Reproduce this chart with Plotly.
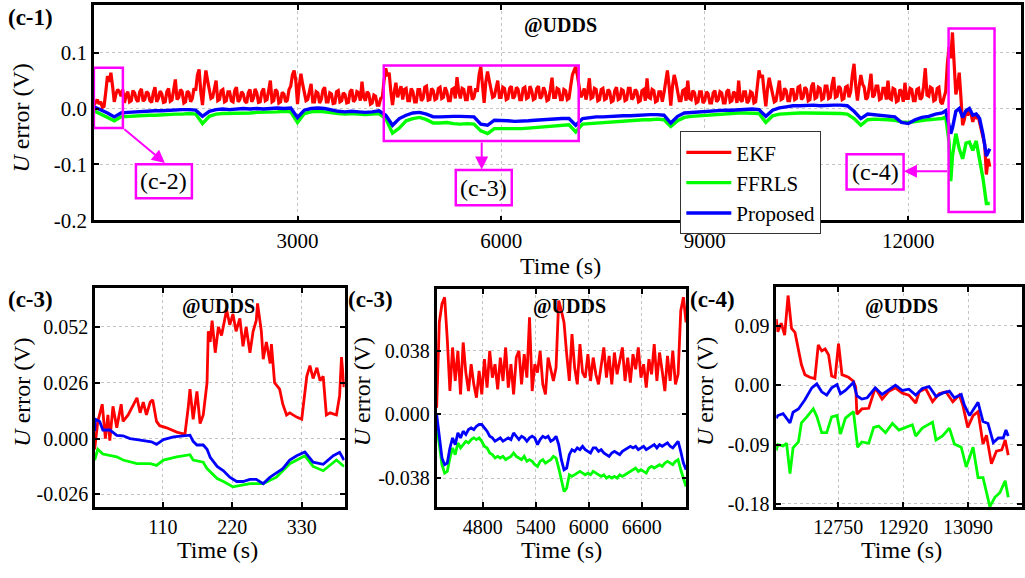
import plotly.graph_objects as go

# ---------------- DATA ----------------
# (c-1) full UDDS run, EKF sampled every 25 s
T_TOP_EKF = list(range(0, 13201, 25))
EKF_TOP = [
    # 0-975
    0.006, 0.012, 0.016, 0.008, 0.012, 0.002, 0.004, 0.030, 0.058, 0.048, 0.064, 0.040, 0.012, 0.026, 0.034, 0.030, 0.022, 0.034, 0.010, 0.024,
    0.030, 0.012, 0.014, 0.032, 0.028, 0.016, 0.012, 0.030, 0.035, 0.013, 0.016, 0.030, 0.027, 0.014, 0.011, 0.028, 0.038, 0.012, 0.018, 0.031,
    # 1000-1975
    0.026, 0.011, 0.012, 0.030, 0.036, 0.013, 0.015, 0.033, 0.052, 0.016, 0.020, 0.034, 0.030, 0.010, 0.012, 0.031, 0.028, 0.012, 0.018, 0.036,
    0.032, 0.060, 0.070, 0.030, 0.006, 0.040, 0.068, 0.050, 0.036, 0.018, 0.020, 0.034, 0.050, 0.014, 0.016, 0.032, 0.034, 0.012, 0.014, 0.030,
    # 2000-2975
    0.030, 0.014, 0.012, 0.032, 0.038, 0.012, 0.016, 0.030, 0.026, 0.013, 0.010, 0.028, 0.034, 0.012, 0.018, 0.035, 0.028, 0.011, 0.012, 0.030,
    0.036, 0.014, 0.016, 0.032, 0.050, 0.012, 0.014, 0.034, 0.030, 0.010, 0.012, 0.029, 0.026, 0.012, 0.015, 0.034, 0.040, 0.060, 0.068, 0.050,
    # 3000-3975
    0.008, 0.040, 0.062, 0.044, 0.030, 0.014, 0.016, 0.034, 0.044, 0.012, 0.012, 0.030, 0.028, 0.010, 0.016, 0.033, 0.038, 0.012, 0.012, 0.028,
    0.026, 0.009, 0.010, 0.030, 0.032, 0.012, 0.014, 0.028, 0.025, 0.010, 0.011, 0.030, 0.034, 0.012, 0.016, 0.030, 0.028, 0.014, 0.048, 0.020,
    # 4000-4975
    0.014, 0.030, 0.026, 0.008, 0.010, 0.024, 0.022, 0.006, 0.006, 0.018, 0.020, 0.050, 0.072, 0.058, 0.064, 0.030, 0.006, 0.030, 0.046, 0.020,
    0.030, 0.040, 0.016, 0.034, 0.036, 0.014, 0.014, 0.036, 0.030, 0.012, 0.012, 0.034, 0.034, 0.014, 0.018, 0.038, 0.040, 0.015, 0.016, 0.036,
    # 5000-5975
    0.032, 0.016, 0.018, 0.036, 0.038, 0.018, 0.020, 0.038, 0.030, 0.014, 0.014, 0.034, 0.036, 0.018, 0.056, 0.030, 0.018, 0.036, 0.034, 0.016,
    0.016, 0.038, 0.038, 0.016, 0.020, 0.036, 0.030, 0.060, 0.075, 0.040, 0.010, 0.048, 0.066, 0.050, 0.034, 0.020, 0.022, 0.038, 0.050, 0.020,
    # 6000-6975
    0.020, 0.038, 0.036, 0.016, 0.018, 0.036, 0.040, 0.018, 0.022, 0.038, 0.034, 0.016, 0.016, 0.036, 0.038, 0.018, 0.020, 0.040, 0.032, 0.016,
    0.018, 0.036, 0.040, 0.018, 0.022, 0.038, 0.030, 0.014, 0.016, 0.034, 0.055, 0.020, 0.020, 0.036, 0.034, 0.016, 0.016, 0.034, 0.032, 0.016,
    # 7000-7975
    0.018, 0.040, 0.060, 0.068, 0.075, 0.058, 0.040, 0.020, 0.026, 0.036, 0.016, 0.030, 0.054, 0.018, 0.020, 0.036, 0.034, 0.014, 0.016, 0.034,
    0.036, 0.016, 0.018, 0.034, 0.030, 0.012, 0.014, 0.032, 0.038, 0.016, 0.018, 0.034, 0.032, 0.014, 0.016, 0.036, 0.036, 0.016, 0.020, 0.034,
    # 8000-8975
    0.030, 0.012, 0.014, 0.032, 0.034, 0.014, 0.054, 0.020, 0.018, 0.034, 0.032, 0.012, 0.014, 0.030, 0.030, 0.012, 0.028, 0.050, 0.068, 0.040,
    0.005, 0.040, 0.060, 0.048, 0.030, 0.014, 0.014, 0.032, 0.034, 0.014, 0.050, 0.018, 0.016, 0.032, 0.028, 0.010, 0.012, 0.030, 0.030, 0.010,
    # 9000-9975
    0.014, 0.030, 0.026, 0.010, 0.010, 0.028, 0.032, 0.012, 0.016, 0.030, 0.028, 0.010, 0.010, 0.030, 0.034, 0.012, 0.014, 0.030, 0.026, 0.010,
    0.050, 0.016, 0.012, 0.030, 0.030, 0.010, 0.014, 0.030, 0.028, 0.010, 0.012, 0.040, 0.068, 0.055, 0.060, 0.030, 0.004, 0.035, 0.055, 0.040,
    # 10000-10975
    0.028, 0.012, 0.014, 0.032, 0.050, 0.016, 0.018, 0.036, 0.032, 0.014, 0.014, 0.034, 0.034, 0.016, 0.018, 0.038, 0.040, 0.016, 0.020, 0.038,
    0.034, 0.014, 0.016, 0.040, 0.046, 0.018, 0.020, 0.038, 0.036, 0.016, 0.018, 0.040, 0.040, 0.018, 0.020, 0.042, 0.056, 0.020, 0.022, 0.040,
    # 11000-11975
    0.036, 0.016, 0.018, 0.038, 0.040, 0.020, 0.030, 0.060, 0.080, 0.040, 0.014, 0.040, 0.060, 0.044, 0.038, 0.016, 0.020, 0.040, 0.062, 0.020,
    0.024, 0.040, 0.040, 0.016, 0.018, 0.036, 0.036, 0.016, 0.050, 0.018, 0.016, 0.036, 0.034, 0.012, 0.014, 0.034, 0.030, 0.012, 0.046, 0.018,
    # 12000-12975
    0.018, 0.036, 0.034, 0.014, 0.014, 0.034, 0.036, 0.016, 0.020, 0.040, 0.072, 0.024, 0.022, 0.038, 0.036, 0.014, 0.016, 0.036, 0.038, 0.012,
    0.008, 0.020, 0.030, 0.080, 0.110, 0.090, 0.136, 0.080, 0.025, 0.040, 0.064, 0.020, -0.030, -0.020, -0.004, -0.012, -0.006, -0.010, -0.024, -0.012,
    # 13000-13200
    -0.016, -0.012, -0.026, -0.040, -0.050, -0.064, -0.118, -0.090, -0.104,
]
# FFRLS / Proposed sampled every 100 s, denser near the end
T_TOP_BG = list(range(0, 12500, 100)) + [12500, 12550, 12600, 12625, 12650, 12700, 12750, 12800,
                                         12850, 12900, 12950, 13000, 13050, 13100, 13150, 13200]
PROPOSED_TOP = [
    0.003, -0.002, -0.008, -0.015, -0.008, -0.007, -0.006, -0.005, -0.005, -0.004, -0.004, -0.003, -0.003, -0.002, -0.002,
    -0.003, -0.014, -0.005, -0.002, -0.001, -0.002, -0.001, 0.000, -0.001, 0.000, -0.001, 0.000, 0.001, 0.000, 0.001,
    -0.016, -0.003, 0.000, 0.001, 0.000, -0.003, -0.005, -0.006, -0.005, -0.006, -0.007, -0.006, -0.004,
    -0.012, -0.030, -0.018, -0.012, -0.008, -0.007, -0.010, -0.015, -0.015, -0.014, -0.014, -0.014, -0.014, -0.015,
    -0.028, -0.030, -0.021, -0.021, -0.022, -0.023, -0.023, -0.022, -0.021, -0.020, -0.020, -0.019, -0.018, -0.018, -0.030,
    -0.018, -0.016, -0.015, -0.015, -0.014, -0.014, -0.013, -0.013, -0.012, -0.012, -0.011, -0.011, -0.012, -0.026, -0.014,
    -0.008, -0.007, -0.007, -0.006, -0.005, -0.004, -0.003, -0.003, -0.002, -0.002, -0.001, -0.002, -0.014, -0.003, 0.001,
    0.003, 0.005, 0.005, 0.006, 0.006, 0.005, 0.006, 0.006, 0.006, 0.005, -0.005, -0.018, -0.010, -0.011, -0.012,
    -0.013, -0.015, -0.025, -0.027, -0.020, -0.016, -0.014, -0.010,
    -0.008, -0.004, -0.030, -0.045, -0.035, -0.005, 0.000, -0.016, -0.004, 0.000, -0.012, -0.010, -0.018, -0.046, -0.085, -0.072,
]
FFRLS_TOP = [
    -0.004, -0.010, -0.017, -0.022, -0.015, -0.014, -0.013, -0.013, -0.012, -0.012, -0.011, -0.011, -0.010, -0.010, -0.009,
    -0.010, -0.027, -0.014, -0.010, -0.009, -0.009, -0.008, -0.008, -0.008, -0.007, -0.007, -0.006, -0.006, -0.005, -0.006,
    -0.025, -0.009, -0.006, -0.005, -0.006, -0.008, -0.009, -0.010, -0.009, -0.010, -0.011, -0.010, -0.009,
    -0.018, -0.044, -0.035, -0.022, -0.018, -0.016, -0.020, -0.026, -0.026, -0.025, -0.027, -0.028, -0.027, -0.028,
    -0.040, -0.045, -0.036, -0.036, -0.037, -0.037, -0.036, -0.035, -0.034, -0.033, -0.031, -0.031, -0.029, -0.029, -0.042,
    -0.028, -0.027, -0.026, -0.025, -0.024, -0.023, -0.022, -0.022, -0.021, -0.020, -0.020, -0.019, -0.020, -0.032, -0.022,
    -0.016, -0.014, -0.013, -0.012, -0.011, -0.010, -0.010, -0.009, -0.008, -0.008, -0.008, -0.009, -0.025, -0.013, -0.010,
    -0.009, -0.009, -0.008, -0.008, -0.008, -0.009, -0.008, -0.008, -0.009, -0.010, -0.018, -0.030, -0.020, -0.019, -0.019,
    -0.020, -0.021, -0.024, -0.025, -0.023, -0.021, -0.020, -0.019,
    -0.018, -0.015, -0.060, -0.130, -0.085, -0.045, -0.072, -0.090, -0.062, -0.060, -0.075, -0.058, -0.088, -0.125, -0.170, -0.170,
]

# (c-2) zoom: 0-400 s
T_C2_EKF = [2, 7, 14, 19, 23, 26, 31, 37, 44, 47, 55, 60, 69, 74, 79, 84, 90, 94, 100, 105,
            116, 132, 145, 150, 153, 158, 164, 169, 174, 180, 182, 185, 188, 193, 198, 203, 208, 211, 216, 221,
            226, 232, 237, 242, 248, 253, 258, 260, 266, 269, 274, 280, 282, 287, 295, 300, 306, 311, 322, 330,
            338, 343, 348, 354, 359, 364, 369, 375, 385, 390, 393, 397]
EKF_C2 = [-0.005, 0.008, 0.016, 0.000, 0.011, -0.001, 0.015, 0.005, 0.016, 0.008, 0.011, 0.014, 0.019, 0.012, 0.017, 0.011, 0.017, 0.018, 0.008, 0.006,
          0.005, 0.003, 0.002, 0.014, 0.023, 0.009, 0.022, 0.007, 0.011, 0.026, 0.050, 0.045, 0.055, 0.040, 0.052, 0.048, 0.056, 0.060, 0.053, 0.058,
          0.050, 0.056, 0.043, 0.052, 0.040, 0.050, 0.055, 0.063, 0.050, 0.037, 0.045, 0.035, 0.044, 0.026, 0.023, 0.016, 0.011, 0.012, 0.010, 0.009,
          0.029, 0.034, 0.028, 0.033, 0.027, 0.029, 0.011, 0.012, 0.011, 0.020, 0.038, 0.024]
T_C2_PROP = [2, 3, 10, 15, 26, 37, 47, 58, 69, 79, 92, 100, 111, 127, 143, 153, 158, 164, 174, 180,
             185, 196, 206, 216, 227, 237, 248, 258, 269, 280, 290, 300, 311, 322, 335, 348, 364, 380, 390, 397]
PROPOSED_C2 = [0.0035, 0.009, 0.008, 0.004, 0.004, 0.0015, 0.0013, 0.0, -0.0005, -0.001,
               -0.0015, -0.0027, -0.0005, 0.0008, 0.0013, 0.0016, -0.0013, -0.003, -0.003, -0.005,
               -0.0087, -0.013, -0.015, -0.018, -0.020, -0.020, -0.019, -0.019, -0.021, -0.018,
               -0.016, -0.014, -0.010, -0.008, -0.0062, -0.011, -0.012, -0.008, -0.0064, -0.010]
T_C2_FF = [2, 7, 15, 26, 37, 47, 69, 90, 100, 111, 132, 153, 158, 174, 180, 196, 206, 221, 232, 248,
           269, 290, 311, 335, 348, 364, 385, 397]
FFRLS_C2 = [-0.010, -0.005, -0.0072, -0.008, -0.0085, -0.010, -0.0117, -0.0117, -0.0125, -0.010,
            -0.0085, -0.0075, -0.010, -0.011, -0.014, -0.0186, -0.020, -0.0225, -0.022, -0.021,
            -0.021, -0.018, -0.0117, -0.008, -0.013, -0.015, -0.010, -0.013]

# (c-3) zoom: 4280-7100 s, every 30 s
T_C3 = list(range(4280, 7101, 30))
EKF_C3 = [0.004, 0.055, 0.066, 0.070, 0.045, 0.014, 0.040, 0.020, 0.038, 0.012,
          0.043, 0.025, 0.014, 0.030, 0.018, 0.010, 0.026, 0.012, 0.033, 0.016,
          0.038, 0.022, 0.030, 0.015, 0.034, 0.020, 0.040, 0.016, 0.030, 0.012,
          0.034, 0.038, 0.018, 0.036, 0.022, 0.058, 0.014, 0.030, 0.025, 0.038,
          0.018, 0.012, 0.034, 0.026, 0.020, 0.028, 0.068, 0.062, 0.055, 0.036,
          0.020, 0.048, 0.028, 0.018, 0.042, 0.025, 0.022, 0.036, 0.020, 0.034,
          0.024, 0.018, 0.030, 0.040, 0.022, 0.035, 0.018, 0.037, 0.024, 0.031,
          0.040, 0.020, 0.034, 0.019, 0.036, 0.027, 0.040, 0.022, 0.030, 0.016,
          0.033, 0.024, 0.042, 0.020, 0.037, 0.026, 0.014, 0.035, 0.020, 0.038,
          0.018, 0.024, 0.062, 0.070, 0.055]
PROPOSED_C3 = [0.000, -0.012, -0.026, -0.030, -0.029, -0.020, -0.014, -0.018, -0.011, -0.014,
               -0.010, -0.012, -0.009, -0.008, -0.009, -0.007, -0.006, -0.006, -0.008, -0.010,
               -0.013, -0.014, -0.016, -0.015, -0.014, -0.016, -0.015, -0.014, -0.015, -0.011,
               -0.013, -0.015, -0.013, -0.014, -0.016, -0.014, -0.013, -0.014, -0.018, -0.015,
               -0.013, -0.014, -0.013, -0.016, -0.015, -0.013, -0.018, -0.027, -0.033, -0.032,
               -0.024, -0.021, -0.022, -0.020, -0.021, -0.019, -0.021, -0.022, -0.023, -0.020,
               -0.020, -0.022, -0.021, -0.023, -0.024, -0.025, -0.023, -0.022, -0.023, -0.024,
               -0.022, -0.021, -0.020, -0.019, -0.020, -0.019, -0.021, -0.020, -0.019, -0.021,
               -0.020, -0.019, -0.018, -0.020, -0.018, -0.019, -0.018, -0.017, -0.019, -0.020,
               -0.018, -0.016, -0.022, -0.029, -0.033]
FFRLS_C3 = [-0.006, -0.018, -0.030, -0.035, -0.034, -0.026, -0.020, -0.024, -0.017, -0.020,
            -0.018, -0.016, -0.017, -0.015, -0.014, -0.015, -0.014, -0.016, -0.019, -0.020,
            -0.023, -0.024, -0.026, -0.025, -0.026, -0.025, -0.027, -0.026, -0.025, -0.023,
            -0.025, -0.026, -0.027, -0.025, -0.028, -0.027, -0.028, -0.030, -0.031, -0.028,
            -0.027, -0.029, -0.028, -0.027, -0.025, -0.026, -0.032, -0.040, -0.046, -0.044,
            -0.036, -0.037, -0.036, -0.035, -0.034, -0.035, -0.036, -0.035, -0.036, -0.034,
            -0.035, -0.036, -0.037, -0.036, -0.038, -0.037, -0.038, -0.037, -0.038, -0.036,
            -0.037, -0.036, -0.035, -0.034, -0.033, -0.032, -0.034, -0.033, -0.034, -0.035,
            -0.032, -0.031, -0.032, -0.031, -0.030, -0.031, -0.029, -0.028, -0.029, -0.030,
            -0.028, -0.027, -0.033, -0.038, -0.043]

# (c-4) zoom: end of discharge
T_C4_EKF = [12588, 12592, 12601, 12610, 12619, 12628, 12637, 12646, 12654, 12663, 12676, 12689, 12698, 12707, 12716,
            12725, 12733, 12742, 12751, 12760, 12777, 12790, 12796, 12799, 12812, 12830, 12847, 12865, 12883, 12900,
            12918, 12935, 12953, 12962, 12979, 12997, 13014, 13032, 13050, 13067, 13076, 13089, 13103, 13116, 13129,
            13138, 13151, 13164, 13178, 13187, 13195]
EKF_C4 = [0.100, 0.081, 0.094, 0.076, 0.136, 0.086, 0.080, 0.056, 0.031, 0.016, 0.012, 0.010, 0.061, 0.052, 0.055,
          0.046, 0.014, 0.012, 0.063, 0.016, 0.012, 0.006, -0.003, -0.044, -0.036, -0.035, -0.004, -0.021, -0.009, -0.004,
          -0.012, -0.015, -0.027, -0.010, -0.005, -0.025, -0.013, -0.010, -0.025, -0.015, -0.030, -0.064, -0.046, -0.040, -0.089,
          -0.076, -0.119, -0.100, -0.098, -0.083, -0.106]
T_C4_PROP = [12588, 12592, 12606, 12615, 12624, 12632, 12646, 12663, 12681, 12694, 12707, 12720, 12733, 12747, 12756,
             12769, 12790, 12799, 12812, 12826, 12839, 12847, 12865, 12883, 12900, 12918, 12935, 12953, 12970, 12988,
             13006, 13023, 13041, 13054, 13072, 13080, 13094, 13116, 13129, 13142, 13156, 13169, 13182, 13189, 13195]
PROPOSED_C4 = [-0.050, -0.046, -0.043, -0.050, -0.057, -0.041, -0.036, -0.022, -0.004, 0.002, -0.010, -0.015, -0.004, 0.001, -0.013,
               -0.008, 0.004, -0.016, -0.021, -0.019, -0.009, -0.004, -0.014, -0.007, 0.000, -0.008, -0.006, -0.015, -0.005, -0.002,
               -0.017, -0.012, -0.009, -0.019, -0.014, -0.030, -0.046, -0.026, -0.055, -0.058, -0.087, -0.080, -0.080, -0.068, -0.077]
T_C4_FF = [12588, 12592, 12606, 12615, 12624, 12632, 12646, 12654, 12668, 12685, 12694, 12707, 12720, 12733, 12747,
           12756, 12769, 12790, 12801, 12812, 12830, 12843, 12856, 12874, 12892, 12909, 12922, 12944, 12953, 12970,
           12997, 13006, 13023, 13041, 13054, 13072, 13085, 13103, 13116, 13129, 13147, 13160, 13173, 13187, 13195]
FFRLS_C4 = [-0.099, -0.090, -0.092, -0.088, -0.134, -0.095, -0.086, -0.057, -0.048, -0.036, -0.047, -0.072, -0.072, -0.048, -0.046,
            -0.074, -0.050, -0.040, -0.094, -0.086, -0.088, -0.064, -0.062, -0.072, -0.058, -0.068, -0.065, -0.060, -0.077, -0.065,
            -0.056, -0.083, -0.077, -0.065, -0.089, -0.094, -0.124, -0.094, -0.140, -0.140, -0.184, -0.170, -0.163, -0.145, -0.170]

COLORS = {"EKF": "#ff0000", "FFRLS": "#00ff00", "Proposed": "#0000ff"}

TOP_XTICKS = [3000, 6000, 9000, 12000]
TOP_XTEXT = ["3000", "6000", "9000", "12000"]
TOP_YTICKS = [-0.2, -0.1, 0.0, 0.1]
TOP_YTEXT = ["-0.2", "-0.1", "0.0", "0.1"]
C2_XTICKS = [110, 220, 330]
C2_XTEXT = ["110", "220", "330"]
C2_YTICKS = [-0.026, 0.0, 0.026, 0.052]
C2_YTEXT = ["-0.026", "0.000", "0.026", "0.052"]
C3_XTICKS = [4800, 5400, 6000, 6600]
C3_XTEXT = ["4800", "5400", "6000", "6600"]
C3_YTICKS = [-0.038, 0.0, 0.038]
C3_YTEXT = ["-0.038", "0.000", "0.038"]
C4_XTICKS = [12750, 12920, 13090]
C4_XTEXT = ["12750", "12920", "13090"]
C4_YTICKS = [-0.18, -0.09, 0.0, 0.09]
C4_YTEXT = ["-0.18", "-0.09", "0.00", "0.09"]

assert len(T_TOP_EKF) == len(EKF_TOP), (len(T_TOP_EKF), len(EKF_TOP))
assert len(T_TOP_BG) == len(PROPOSED_TOP) == len(FFRLS_TOP)
assert len(T_C2_EKF) == len(EKF_C2) and len(T_C2_PROP) == len(PROPOSED_C2) and len(T_C2_FF) == len(FFRLS_C2)
assert len(T_C3) == len(EKF_C3) == len(PROPOSED_C3) == len(FFRLS_C3)
assert len(T_C4_EKF) == len(EKF_C4) and len(T_C4_PROP) == len(PROPOSED_C4) and len(T_C4_FF) == len(FFRLS_C4)

# ---------------- FIGURE ----------------
W, H = 1025, 578
FONT = "Times New Roman, Liberation Serif, Times, serif"
MAG = "#ff00ff"


def PX(x):
    return x / W


def PY(y):
    return 1 - y / H


fig = go.Figure()


def add(x, y, name, xa, ya, show=False, width=2.8):
    fig.add_trace(go.Scatter(x=x, y=y, mode="lines", name=name, showlegend=show,
                             line=dict(color=COLORS[name], width=width),
                             xaxis=xa, yaxis=ya, hoverinfo="skip"))


# top panel (draw order: EKF, FFRLS, Proposed on top)
add(T_TOP_EKF, EKF_TOP, "EKF", "x", "y", True, 3.2)
add(T_TOP_BG, FFRLS_TOP, "FFRLS", "x", "y", True, 3.4)
add(T_TOP_BG, PROPOSED_TOP, "Proposed", "x", "y", True, 3.4)
# (c-2)
add(T_C2_EKF, EKF_C2, "EKF", "x2", "y2")
add(T_C2_FF, FFRLS_C2, "FFRLS", "x2", "y2")
add(T_C2_PROP, PROPOSED_C2, "Proposed", "x2", "y2")
# (c-3)
add(T_C3, EKF_C3, "EKF", "x3", "y3")
add(T_C3, FFRLS_C3, "FFRLS", "x3", "y3")
add(T_C3, PROPOSED_C3, "Proposed", "x3", "y3")
# (c-4)
add(T_C4_EKF, EKF_C4, "EKF", "x4", "y4")
add(T_C4_FF, FFRLS_C4, "FFRLS", "x4", "y4")
add(T_C4_PROP, PROPOSED_C4, "Proposed", "x4", "y4")


def axis(domain, rng, tickvals, ticktext, anchor=None, size=20):
    return dict(domain=domain, range=rng, tickvals=tickvals, ticktext=ticktext, showline=True, linecolor="black",
                linewidth=2.5, mirror="ticks", ticks="inside", ticklen=5, tickwidth=1.5, tickcolor="black",
                showgrid=True, gridcolor="#c4c4c4", griddash="dot", gridwidth=1, zeroline=False,
                tickfont=dict(family=FONT, size=size, color="black"), anchor=anchor, fixedrange=True)


layout = dict(
    width=W, height=H, autosize=False,
    margin=dict(l=0, r=0, t=0, b=0),
    paper_bgcolor="white", plot_bgcolor="white",
    font=dict(family=FONT, color="black"),
    xaxis=axis([PX(94), PX(1022)], [0, 13660], TOP_XTICKS, TOP_XTEXT, anchor="y", size=21),
    yaxis=axis([PY(225), PY(5)], [-0.2, 0.1853], TOP_YTICKS, TOP_YTEXT, anchor="x", size=21),
    xaxis2=axis([PX(95), PX(345)], [2.4, 398], C2_XTICKS, C2_XTEXT, anchor="y2"),
    yaxis2=axis([PY(518), PY(294)], [-0.032, 0.0702], C2_YTICKS, C2_YTEXT, anchor="x2"),
    xaxis3=axis([PX(437), PX(687)], [4279, 7103], C3_XTICKS, C3_XTEXT, anchor="y3"),
    yaxis3=axis([PY(518), PY(295)], [-0.0554, 0.075], C3_YTICKS, C3_YTEXT, anchor="x3"),
    xaxis4=axis([PX(777), PX(1023)], [12588, 13231], C4_XTICKS, C4_XTEXT, anchor="y4"),
    yaxis4=axis([PY(518), PY(293)], [-0.185, 0.149], C4_YTICKS, C4_YTEXT, anchor="x4"),
    legend=dict(x=PX(681), y=PY(134), xanchor="left", yanchor="top", bgcolor="white",
                bordercolor="#333333", borderwidth=1, tracegroupgap=0, itemwidth=45,
                font=dict(family=FONT, size=21, color="black")),
    showlegend=True,
)
fig.update_layout(**layout)

ann = []


def text(x, y, s, size, xanchor="center", angle=0):
    ann.append(dict(x=PX(x), y=PY(y), xref="paper", yref="paper", text=s, showarrow=False,
                    xanchor=xanchor, yanchor="middle", textangle=angle,
                    font=dict(family=FONT, size=size, color="black")))


# panel labels
text(6, 18, "<b>(c-1)</b>", 23, "left")
text(6, 306, "<b>(c-3)</b>", 23, "left")
text(346, 306, "<b>(c-3)</b>", 23, "left")
text(689, 306, "<b>(c-4)</b>", 23, "left")
# @UDDS
text(561, 26, "<b>@UDDS</b>", 20)
text(219, 313, "<b>@UDDS</b>", 20)
text(570, 313, "<b>@UDDS</b>", 20)
text(902, 313, "<b>@UDDS</b>", 20)
# axis titles
text(561, 272, "Time (s)", 24)
text(218, 562, "Time (s)", 24)
text(562, 562, "Time (s)", 24)
text(902, 562, "Time (s)", 24)
YT = "<i>U</i> error (V)"
text(21, 120, YT, 24, angle=-90)
text(22, 400, YT, 24, angle=-90)
text(362, 400, YT, 24, angle=-90)
text(705, 400, YT, 24, angle=-90)

shapes = []


def rect(x0, x1, y0, y1):
    shapes.append(dict(type="rect", xref="x", yref="y", x0=x0, x1=x1, y0=y0, y1=y1,
                       line=dict(color=MAG, width=2.5), fillcolor="rgba(0,0,0,0)", layer="above"))


# highlight boxes on the top panel (data coords)
rect(0, 427, -0.035, 0.073)           # c-2 region
rect(4271, 7143, -0.058, 0.077)       # c-3 region
rect(12593, 13270, -0.185, 0.143)     # c-4 region
# label boxes
rect(619, 1444, -0.1606, -0.0995)
rect(5332, 6157, -0.173, -0.110)
rect(11090, 11930, -0.145, -0.082)
for (x, y, s) in [(1031, -0.130, "(c-2)"), (5745, -0.1415, "(c-3)"), (11510, -0.1135, "(c-4)")]:
    ann.append(dict(x=x, y=y, xref="x", yref="y", text=s, showarrow=False,
                    font=dict(family=FONT, size=24, color="black")))

# arrows
for (hx, hy, tx, ty) in [(1046, -0.0975, 427, -0.035), (5714, -0.109, 5714, -0.058), (11935, -0.112, 12593, -0.112)]:
    ann.append(dict(x=hx, y=hy, xref="x", yref="y", ax=tx, ay=ty, axref="x", ayref="y",
                    text="", showarrow=True, arrowhead=2, arrowsize=1.3, arrowwidth=2,
                    arrowcolor=MAG, standoff=0, startstandoff=0))

fig.update_layout(annotations=ann, shapes=shapes)
fig.write_html("out.html")
